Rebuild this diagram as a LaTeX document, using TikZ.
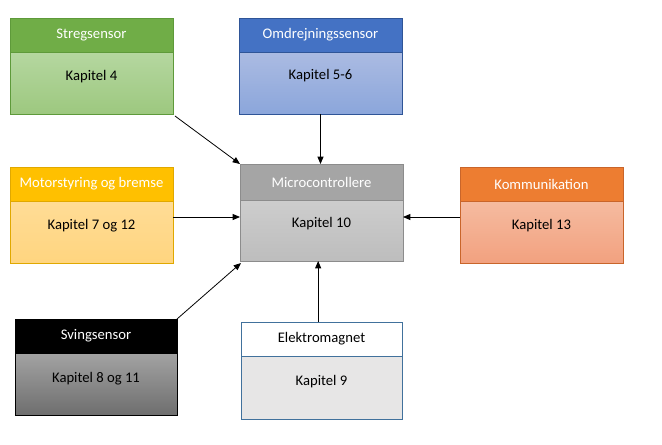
\documentclass[tikz,border=0pt]{standalone}
\usepackage{fontspec}
\setmainfont{Carlito}
\usetikzlibrary{arrows.meta}
\definecolor{hgreen}{HTML}{70AD47}\definecolor{bgreen}{HTML}{5E9A3A}
\definecolor{tgreen}{HTML}{B5D7A0}\definecolor{lgreen}{HTML}{9DC87F}
\definecolor{hblue}{HTML}{4472C4}\definecolor{bblue}{HTML}{2F5597}
\definecolor{tblue}{HTML}{ABBBE2}\definecolor{lblue}{HTML}{8BA6DB}
\definecolor{hyel}{HTML}{FFC000}\definecolor{byel}{HTML}{E0A800}
\definecolor{tyel}{HTML}{FFDC96}\definecolor{lyel}{HTML}{FFD57F}
\definecolor{hgray}{HTML}{A5A5A5}\definecolor{bgray}{HTML}{8C8C8C}
\definecolor{tgray}{HTML}{CDCDCD}\definecolor{lgray}{HTML}{BDBDBD}
\definecolor{horg}{HTML}{ED7D31}\definecolor{borg}{HTML}{C9652A}
\definecolor{torg}{HTML}{F5BBA0}\definecolor{lorg}{HTML}{F2A17F}
\definecolor{tblk}{HTML}{A3A3A3}\definecolor{lblk}{HTML}{6E6E6E}
\definecolor{belek}{HTML}{41719C}\definecolor{felek}{HTML}{E7E6E6}
\begin{document}
\begin{tikzpicture}[x=0.75pt,y=-0.75pt,
  hdr/.style={rectangle,inner sep=0pt,outer sep=0pt,anchor=north west,
    minimum width=122.25pt,minimum height=25.5pt,line width=0.6pt,
    font=\fontsize{11}{13}\selectfont},
  bdy/.style={rectangle,inner sep=0pt,outer sep=0pt,anchor=north,
    minimum width=122.25pt,minimum height=46.5pt,line width=0.6pt},
  lbl/.style={inner sep=0pt,font=\fontsize{11}{13}\selectfont,text=black},
  arr/.style={-{Triangle[length=5.5pt,width=4.5pt]},line width=0.6pt,black}]
\useasboundingbox (0,0) rectangle (662,444);
\fill[white] (0,0) rectangle (662,444);

% Stregsensor
\node[hdr,fill=hgreen,draw=bgreen,text=white] (sh) at (10,18) {Stregsensor};
\node[bdy,top color=tgreen,bottom color=lgreen,draw=bgreen] (sb) at (sh.south) {};
\node[lbl] (st) at ([yshift=-18.75pt]sb.north) {Kapitel 4};

% Omdrejningssensor
\node[hdr,fill=hblue,draw=bblue,text=white] (oh) at (239,18) {Omdrejningssensor};
\node[bdy,top color=tblue,bottom color=lblue,draw=bblue] (ob) at (oh.south) {};
\node[lbl] (ot) at ([yshift=-18pt]ob.north) {Kapitel 5-6};

% Motorstyring
\node[hdr,fill=hyel,draw=byel,text=white] (mh) at (10,167) {Motorstyring og bremse};
\node[bdy,top color=tyel,bottom color=lyel,draw=byel] (mb) at (mh.south) {};
\node[lbl] (mt) at ([yshift=-18.75pt]mb.north) {Kapitel 7 og 12};

% Microcontrollere
\node[hdr,fill=hgray,draw=bgray,text=white,minimum height=27pt] (ch) at (240,164) {Microcontrollere};
\node[bdy,top color=tgray,bottom color=lgray,draw=bgray,minimum height=45.75pt] (cb) at (ch.south) {};
\node[lbl] (ct) at ([yshift=-18pt]cb.north) {Kapitel 10};

% Kommunikation
\node[hdr,fill=horg,draw=borg,text=white] (kh) at (460,167) {Kommunikation};
\node[bdy,top color=torg,bottom color=lorg,draw=borg] (kb) at (kh.south) {};
\node[lbl] (kt) at ([yshift=-18.75pt]kb.north) {Kapitel 13};

% Svingsensor
\node[hdr,fill=black,draw=black,text=white,minimum width=121.5pt] (vh) at (15,319) {Svingsensor};
\node[bdy,top color=tblk,bottom color=lblk,draw=black,minimum width=121.5pt] (vb) at (vh.south) {};
\node[lbl] (vt) at ([yshift=-19.5pt]vb.north) {Kapitel 8 og 11};

% Elektromagnet
\node[hdr,fill=white,draw=belek,text=black,minimum width=120.75pt] (eh) at (241,322) {Elektromagnet};
\node[bdy,fill=felek,draw=belek,minimum width=120.75pt,minimum height=47.25pt] (eb) at (eh.south) {};
\node[lbl] (et) at ([yshift=-19.5pt]eb.north) {Kapitel 9};

% connectors
\coordinate (cw) at ([yshift=-12.75pt]cb.north west);
\coordinate (ce) at ([yshift=-12.75pt]cb.north east);
\draw[arr] ([shift={(1.5pt,-1.5pt)}]sb.south east) -- (ch.north west);
\draw[arr] (ob.south) -- (ob.south |- ch.north);
\draw[arr] (mb.east |- cw) -- (cw);
\draw[arr] (kb.west |- ce) -- (ce);
\draw[arr] (vh.north east) -- ([shift={(0.75pt,-1.5pt)}]cb.south west);
\draw[arr] ([xshift=-2.5pt]eh.north) -- ([xshift=-2.5pt]eh.north |- cb.south);
\end{tikzpicture}
\end{document}
